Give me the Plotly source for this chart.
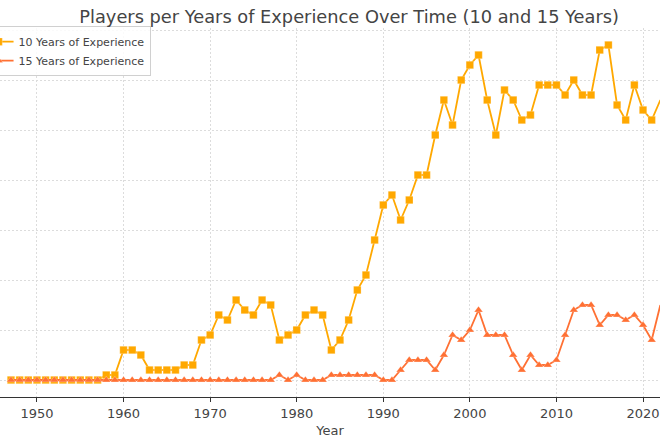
import plotly.graph_objects as go

years = list(range(1947, 2023))

exp_10 = [0, 0, 0, 0, 0, 0, 0, 0, 0, 0, 0,   # 1947-1957
          1, 1, 6, 6, 5, 2, 2, 2, 2, 3, 3,   # 1958-1968
          8, 9, 13, 12, 16, 14, 13, 16, 15, 8, 9,  # 1969-1979
          10, 13, 14, 13, 6, 8, 12, 18, 21, 28,     # 1980-1989
          35, 37, 32, 36, 41, 41, 49, 56, 51, 60,   # 1990-1999
          63, 65, 56, 49, 58, 56, 52, 53, 59, 59,   # 2000-2009
          59, 57, 60, 57, 57, 66, 67, 55, 52, 59,   # 2010-2019
          54, 52, 56]                               # 2020-2022

exp_15 = [0] * 31 + [                               # 1947-1977
          1, 0, 1, 0, 0, 0, 1, 1, 1, 1, 1, 1,       # 1978-1989
          0, 0, 2, 4, 4, 4, 2, 5, 9, 8,             # 1990-1999
          10, 14, 9, 9, 9, 5, 2, 5, 3, 3,           # 2000-2009
          4, 9, 14, 15, 15, 11, 13, 13, 12, 13,     # 2010-2019
          11, 8, 15]                                # 2020-2022

series_names = ["10 Years of Experience", "15 Years of Experience"]
colors = ["#FFA800", "#FF7033"]

fig = go.Figure()
fig.add_trace(go.Scatter(x=years, y=exp_10, name=series_names[0], mode="lines+markers",
                         line=dict(color=colors[0], width=1.8),
                         marker=dict(symbol="square", size=7.5, color=colors[0],
                                     line=dict(color="rgba(255,255,255,0.5)", width=0.5)),
                         cliponaxis=False))
fig.add_trace(go.Scatter(x=years, y=exp_15, name=series_names[1], mode="lines+markers",
                         line=dict(color=colors[1], width=1.8),
                         marker=dict(symbol="triangle-up", size=7.5, color=colors[1],
                                     line=dict(color="rgba(255,255,255,0.5)", width=0.5)),
                         cliponaxis=False))

fig.update_layout(
    width=660, height=440,
    margin=dict(l=0, r=0, t=28, b=43, autoexpand=False),
    paper_bgcolor="white", plot_bgcolor="white",
    font=dict(family="DejaVu Sans", color="#444444", size=12),
    title=dict(text="Players per Years of Experience Over Time (10 and 15 Years)",
               x=0.529, xanchor="center", y=0.963, yanchor="middle",
               font=dict(size=17.8, color="#444444")),
    legend=dict(x=-0.034, y=1.005, xanchor="left", yanchor="top",
                bgcolor="rgba(255,255,255,0.85)", bordercolor="#d0d0d0", borderwidth=1,
                font=dict(size=11, color="#444444"), tracegroupgap=0),
    showlegend=True,
)

fig.update_xaxes(range=[1945.73, 2021.96], dtick=10, tick0=1950,
                 showgrid=True, gridcolor="#dcdcdc", griddash="2px,2px", gridwidth=0.8,
                 showline=True, linecolor="#333333", linewidth=1.2,
                 ticks="outside", ticklen=4, tickcolor="#333333",
                 tickfont=dict(size=13, color="#444444"),
                 title=dict(text="Year", font=dict(size=13, color="#444444"), standoff=6),
                 zeroline=False)
fig.update_yaxes(range=[-3.4, 70.4], dtick=10, tick0=0,
                 showgrid=True, gridcolor="#dcdcdc", griddash="2px,2px", gridwidth=0.8,
                 showticklabels=False, zeroline=False, showline=False)

# page body has a default 8px margin; drop it so the 660x440 figure fills the window
fig.write_html("out.html", config={"displayModeBar": False},
               post_script="document.body.style.margin='0';")
